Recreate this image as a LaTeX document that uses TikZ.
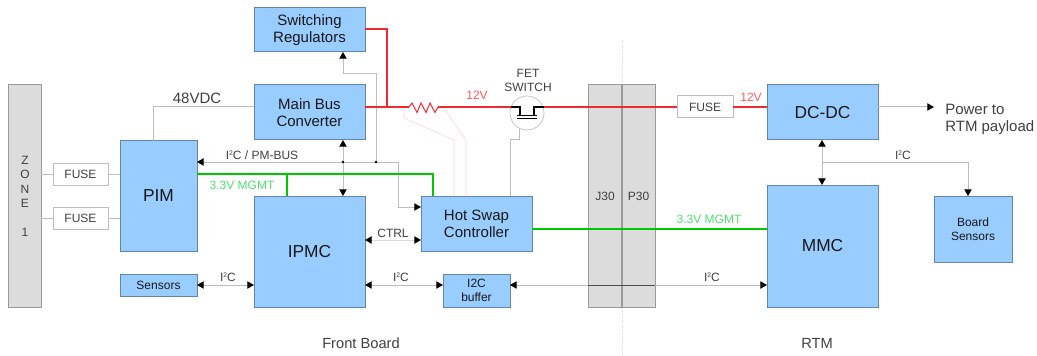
\documentclass[tikz,border=0pt]{standalone}
\usepackage{fontspec}
\setmainfont{Liberation Sans}
\usetikzlibrary{arrows.meta}
\definecolor{blk}{HTML}{99CCFF}
\definecolor{blkline}{HTML}{6585A5}
\definecolor{wire}{HTML}{BDBDBD}
\definecolor{gbar}{HTML}{DCDCDC}
\definecolor{gline}{HTML}{9A9A9A}
\definecolor{redw}{HTML}{F02A30}
\definecolor{redt}{HTML}{FF5A5A}
\definecolor{pinkw}{HTML}{FFD0D0}
\definecolor{greenw}{HTML}{00C800}
\definecolor{greent}{HTML}{4FE070}
\definecolor{txt}{HTML}{404040}
\newdimen\pxu \pxu=0.75pt
\newcommand\szB{\fontsize{11.25pt}{12.75pt}\selectfont}
\newcommand\szC{\fontsize{13pt}{15pt}\selectfont}
\newcommand\szD{\fontsize{9pt}{10.5pt}\selectfont}
\newcommand\sqtwo{\raisebox{3.2pt}{\fontsize{5pt}{5pt}\selectfont 2}}
\tikzset{
  blockbox/.style={draw=blkline,fill=blk,line width=0.75pt,inner sep=0pt,outer sep=0pt,align=center,text=black!90,font=\szB},
  fusebox/.style={draw=wire,fill=white,line width=0.75pt,inner sep=0pt,outer sep=0pt,font=\szD,text=txt,minimum width=55\pxu,minimum height=22\pxu},
  barbox/.style={draw=gline,fill=gbar,line width=0.75pt,inner sep=0pt,outer sep=0pt,align=center,text=black!85},
  wireline/.style={draw=wire,line width=0.75pt},
  redline/.style={draw=redw,line width=1.5pt},
  greenline/.style={draw=greenw,line width=1.5pt},
  pinkline/.style={draw=pinkw,line width=0.4pt},
  lab/.style={inner sep=0pt,font=\szD,text=txt},
  dot/.style={circle,fill=black,inner sep=0pt,minimum size=2.2pt},
}
\begin{document}
\begin{tikzpicture}[x=0.75pt,y=-0.75pt,>={Triangle[length=5pt,width=5.5pt,color=black,fill=black]}]
\useasboundingbox (0,0) rectangle (1037,356);
\fill[white] (0,0) rectangle (1037,356);
% connector dotted
\coordinate (dtop) at (622,40);
\coordinate (dbot) at (622,356);
\draw[gbar,densely dotted,line width=0.75pt] (dtop) -- (dbot);
% bars
\node[barbox,minimum width=33\pxu,minimum height=222\pxu] (zone) at (24.5,196) {};
\node[lab,align=center,font=\fontsize{9pt}{10.9pt}\selectfont] (ztext) at (25,196) {Z\\O\\N\\E\\[10.5pt]1};
\node[barbox,minimum width=34\pxu,minimum height=222\pxu,anchor=north] (j30) at (605,85) {};
\node[barbox,minimum width=33\pxu,minimum height=222\pxu,anchor=north] (p30) at (638.5,85) {};
\node[lab,font=\szD] (j30t) at (605,196) {J30};
\node[lab,font=\szD] (p30t) at (638.5,196) {P30};
\draw[gline,line width=1.5pt] (j30.north east) -- (j30.south east);
% blocks
\node[blockbox,minimum width=111\pxu,minimum height=44\pxu] (sw) at (309.5,30) {Switching\\Regulators};
\node[blockbox,minimum width=111\pxu,minimum height=55\pxu] (mbc) at (309.5,112.5) {Main Bus\\Converter};
\node[blockbox,minimum width=77\pxu,minimum height=110\pxu,font=\szC] (pim) at (158.5,196) {PIM};
\node[blockbox,minimum width=111\pxu,minimum height=111\pxu,font=\szC] (ipmc) at (309.5,251.5) {IPMC};
\node[blockbox,minimum width=77\pxu,minimum height=22\pxu,font=\szD] (sens) at (158.5,285) {Sensors};
\node[blockbox,minimum width=111\pxu,minimum height=55\pxu] (hsc) at (476.5,223.5) {Hot Swap\\Controller};
\node[blockbox,minimum width=67\pxu,minimum height=33\pxu,font=\fontsize{9pt}{10.5pt}\selectfont] (buf) at (476.5,290.5) {I2C\\buffer};
\node[blockbox,minimum width=111\pxu,minimum height=55\pxu,font=\szC] (dc) at (822.5,112.5) {DC-DC};
\node[blockbox,minimum width=111\pxu,minimum height=122\pxu,font=\szC] (mmc) at (822.5,246) {MMC};
\node[blockbox,minimum width=78\pxu,minimum height=66\pxu,font=\szD] (bs) at (973,229) {Board\\Sensors};
\node[fusebox] (f1) at (80.5,174) {FUSE};
\node[fusebox] (f2) at (80.5,218) {FUSE};
\node[fusebox,minimum width=56\pxu] (f3) at (705,107) {FUSE};
% FET
\node[circle,draw=wire,line width=0.5pt,minimum size=34\pxu,inner sep=0pt] (fet) at (527,113) {};
\coordinate (fs) at (511,107);
\coordinate (fd) at (544,107);
% grey wires
\coordinate (c48) at (153,107);
\draw[wireline] (pim.north -| c48) -- (c48) -- (mbc.west |- c48);
\draw[wireline] (f1.east) -- (pim.west |- f1);
\draw[wireline] (f2.east) -- (pim.west |- f2);
\draw[wireline] (zone.east |- f1) -- (f1.west);
\draw[wireline] (zone.east |- f2) -- (f2.west);
% I2C bus
\coordinate (b1) at (398,162);
\coordinate (b2) at (398,207);
\coordinate (j1) at (343,162);
\coordinate (j2) at (376,162);
\coordinate (s1) at (376,74);
\coordinate (s2) at (343,74);
\draw[wireline,->] (b1) -- (pim.east |- b1);
\draw[wireline,->] (b1) -- (b2) -- (hsc.west |- b2);
\draw[wireline,<->] (mbc.south -| j1) -- (ipmc.north -| j1);
\draw[wireline,->] (j2) -- (s1) -- (s2) -- (sw.south -| s2);
\node[dot] (d1) at (j1) {};
\node[dot] (d2) at (j2) {};
% CTRL and I2C
\coordinate (ct) at (365,240);
\draw[draw=gbar,line width=0.75pt,<->] (ipmc.east |- ct) -- (hsc.west |- ct);
\coordinate (i2) at (365,285);
\draw[wireline,<->] (ipmc.east |- i2) -- (buf.west |- i2);
\draw[wireline,<->] (buf.east |- i2) -- (mmc.west |- i2);
\draw[draw=black!70,line width=0.5pt] (j30.west |- i2) -- (p30.east |- i2);
\draw[wireline,<->] (sens.east) -- (ipmc.west |- sens);
% right side
\coordinate (pw) at (934,107);
\draw[wireline,->] (dc.east |- pw) -- (pw);
\coordinate (ri) at (822,162);
\coordinate (ri2) at (968,162);
\draw[wireline,<->] (dc.south -| ri) -- (mmc.north -| ri);
\draw[wireline,->] (ri) -- (ri2) -- (bs.north -| ri2);
% FET gate
\coordinate (g1) at (519,129);
\coordinate (g2) at (519,140);
\coordinate (g3) at (510,140);
\draw[wireline] (g1) -- (g2) -- (g3) -- (hsc.north -| g3);
% sense lines
\coordinate (p1) at (404,107);
\coordinate (p2) at (404,118);
\coordinate (p3) at (454,140);
\coordinate (p4) at (443,107);
\coordinate (p5) at (466,140);
\draw[pinkline] (p1) -- (p2) -- (p3) -- (hsc.north -| p3);
\draw[pinkline] (p4) -- (p5) -- (hsc.north -| p5);
% red
\coordinate (r1) at (387,29);
\coordinate (r2) at (387,107);
\coordinate (r3) at (409,107);
\coordinate (r4) at (438,107);
\draw[redline] (sw.east |- r1) -- (r1) -- (r2);
\draw[redline] (mbc.east |- r2) -- (r3);
\draw[draw=redw,line width=0.75pt] (r3) -- (412,103) -- (417,112.5) -- (421,103) -- (426,112.5) -- (430,103) -- (435,112.5) -- (r4);
\draw[redline] (r4) -- (fs);
\draw[redline] (fd) -- (f3.west);
\draw[redline] (f3.east) -- (dc.west |- f3);
% FET symbol above the rail
\draw[black,line width=0.9pt] (fs) -- (520,107) -- (520,115);
\draw[black,line width=0.9pt] (fd) -- (534,107) -- (534,115);
\draw[black,line width=1.2pt] (517,115.5) -- (537,115.5);
\draw[black,line width=1.2pt] (517,118.5) -- (537,118.5);
% green
\coordinate (g5) at (433,174);
\coordinate (g6) at (287,174);
\draw[greenline] (pim.east |- g5) -- (g5) -- (hsc.north -| g5);
\draw[greenline] (g6) -- (ipmc.north -| g6);
\coordinate (g7) at (532,229);
\draw[greenline] (hsc.east |- g7) -- (mmc.west |- g7);
% labels
\node[lab,font=\fontsize{11.25pt}{13pt}\selectfont] (t48) at (197,98) {48VDC};
\node[lab] (ti1) at (262,155) {I\sqtwo C / PM-BUS};
\node[lab,text=greent] (tg1) at (242,185) {3.3V MGMT};
\node[lab,text=greent] (tg2) at (709,219) {3.3V MGMT};
\node[lab,align=center] (tfet) at (528,80) {FET\\SWITCH};
\node[lab,text=redt] (t12a) at (477,95) {12V};
\node[lab,text=redt] (t12b) at (751,97) {12V};
\node[lab] (tc) at (393,233) {CTRL};
\node[lab] (ti2) at (228,277) {I\sqtwo C};
\node[lab] (ti3) at (401,277) {I\sqtwo C};
\node[lab] (ti4) at (712,277) {I\sqtwo C};
\node[lab] (ti5) at (903,155) {I\sqtwo C};
\node[lab,font=\fontsize{11.25pt}{13pt}\selectfont,align=left,anchor=west] (tp) at (945,119.5) {Power to\\RTM payload};
\node[lab,font=\fontsize{11pt}{13pt}\selectfont] (tfb) at (361,343) {Front Board};
\node[lab,font=\fontsize{11pt}{13pt}\selectfont] (trtm) at (817,343) {RTM};
\end{tikzpicture}
\end{document}
